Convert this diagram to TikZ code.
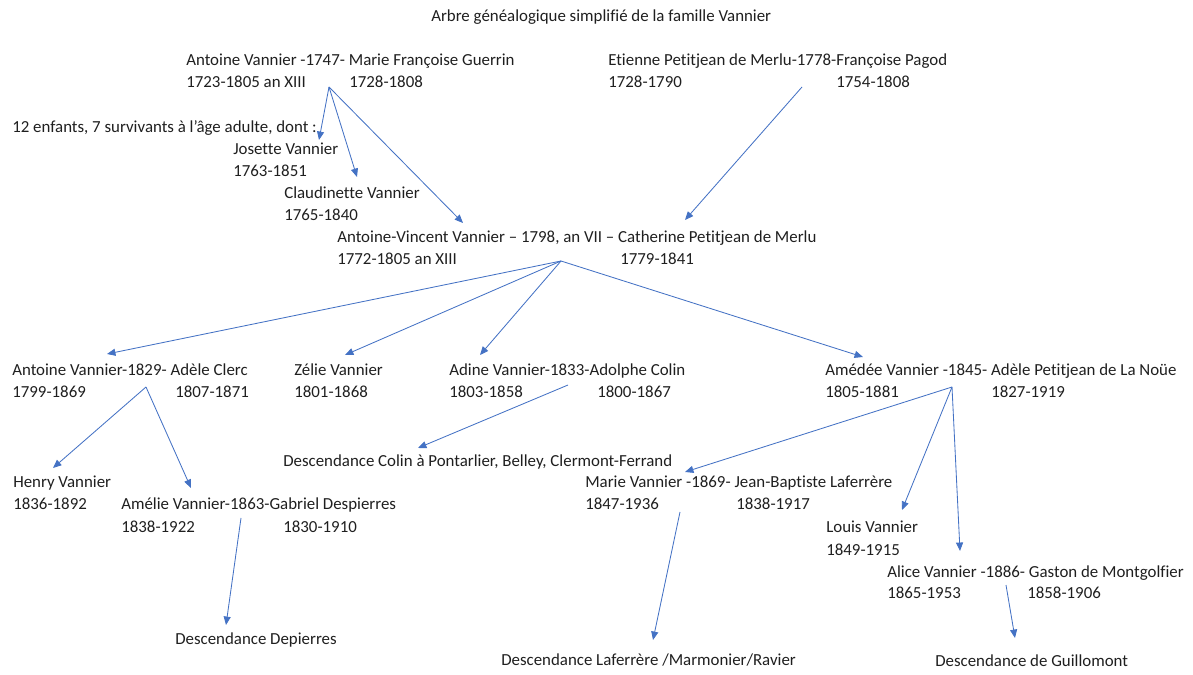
\documentclass[tikz,border=0pt]{standalone}
\usepackage{fontspec}
\setmainfont{Carlito}[Ligatures=NoCommon]
\usetikzlibrary{arrows.meta, calc, positioning}

\definecolor{linkblue}{HTML}{4472C4}
\definecolor{inkgray}{HTML}{1F1F1F}

\tikzset{
    person/.style={anchor=base west, inner sep=0pt, text=inkgray, font=\fontsize{12}{14}\selectfont},
    filiation/.style={draw=linkblue, line width=0.6pt, -{Triangle[length=6pt, width=5pt]}}
}

\begin{document}
\begin{tikzpicture}[x=0.025cm, y=-0.025cm]
    \useasboundingbox (0,0) rectangle (1193,675);

    % Title
    \node[person] (title) at (431,22) {Arbre généalogique simplifié de la famille Vannier};

    % First generation
    \node[person] (ant) at (186,66) {Antoine Vannier -1747- Marie Françoise Guerrin};
    \node[person] (antA) at ($(ant.base west)+(0,22)$) {1723-1805 an XIII};
    \node[person] (antB) at ($(ant.base west)+(163,22)$) {1728-1808};

    \node[person] (eti) at (608,66) {Etienne Petitjean de Merlu-1778-Françoise Pagod};
    \node[person] (etiA) at ($(eti.base west)+(0,22)$) {1728-1790};
    \node[person] (etiB) at ($(eti.base west)+(228,22)$) {1754-1808};

    \node[person] (enf) at (12,133) {12 enfants, 7 survivants à l’âge adulte, dont :};

    \node[person] (jos) at (233,155) {Josette Vannier};
    \node[person] (josA) at ($(jos.base west)+(0,22)$) {1763-1851};

    \node[person] (cla) at (284,199) {Claudinette Vannier};
    \node[person] (claA) at ($(cla.base west)+(0,22)$) {1765-1840};

    % Second generation
    \node[person] (avv) at (337,243) {Antoine-Vincent Vannier – 1798, an VII – Catherine Petitjean de Merlu};
    \node[person] (avvA) at ($(avv.base west)+(0,22)$) {1772-1805 an XIII};
    \node[person] (avvB) at ($(avv.base west)+(283,22)$) {1779-1841};

    % Third generation
    \node[person] (an2) at (12,376) {Antoine Vannier-1829- Adèle Clerc};
    \node[person] (an2A) at ($(an2.base west)+(0,22)$) {1799-1869};
    \node[person] (an2B) at ($(an2.base west)+(163,22)$) {1807-1871};

    \node[person] (zel) at (294,376) {Zélie Vannier};
    \node[person] (zelA) at ($(zel.base west)+(0,22)$) {1801-1868};

    \node[person] (adi) at (449,376) {Adine Vannier-1833-Adolphe Colin};
    \node[person] (adiA) at ($(adi.base west)+(0,22)$) {1803-1858};
    \node[person] (adiB) at ($(adi.base west)+(148,22)$) {1800-1867};

    \node[person] (ame) at (825,376) {Amédée Vannier -1845- Adèle Petitjean de La Noüe};
    \node[person] (ameA) at ($(ame.base west)+(0,22)$) {1805-1881};
    \node[person] (ameB) at ($(ame.base west)+(166,22)$) {1827-1919};

    \node[person] (col) at (283,466) {Descendance Colin à Pontarlier, Belley, Clermont-Ferrand};

    % Fourth generation
    \node[person] (hen) at (13,488) {Henry Vannier};
    \node[person] (henA) at ($(hen.base west)+(0,22)$) {1836-1892};

    \node[person] (aml) at (121,510) {Amélie Vannier-1863-Gabriel Despierres};
    \node[person] (amlA) at ($(aml.base west)+(0,22)$) {1838-1922};
    \node[person] (amlB) at ($(aml.base west)+(162,22)$) {1830-1910};

    \node[person] (mar) at (585,488) {Marie Vannier -1869- Jean-Baptiste Laferrère};
    \node[person] (marA) at ($(mar.base west)+(0,22)$) {1847-1936};
    \node[person] (marB) at ($(mar.base west)+(151,22)$) {1838-1917};

    \node[person] (lou) at (826,533) {Louis Vannier};
    \node[person] (louA) at ($(lou.base west)+(0,22)$) {1849-1915};

    \node[person] (ali) at (887,577) {Alice Vannier -1886- Gaston de Montgolfier};
    \node[person] (aliA) at ($(ali.base west)+(0,22)$) {1865-1953};
    \node[person] (aliB) at ($(ali.base west)+(140,22)$) {1858-1906};

    % Descendants
    \node[person] (dep) at (175,644) {Descendance Depierres};
    \node[person] (laf) at (501,665) {Descendance Laferrère /Marmonier/Ravier};
    \node[person] (gui) at (935,666) {Descendance de Guillomont};

    % Arrow ends
    \coordinate (antS) at (329,87);
    \coordinate (etiS) at (802,87);
    \coordinate (avvS) at (561,261);
    \coordinate (an2S) at (146,387);
    \coordinate (adiS) at (568,385);
    \coordinate (ameS) at (952,387);
    \coordinate (amlS) at (241,518);
    \coordinate (marS) at (680,512);
    \coordinate (aliS) at (1006,585);

    \coordinate (enfT) at (319,140);
    \coordinate (claT) at (357,177);
    \coordinate (avvT) at (463,223);
    \coordinate (catT) at (685,220);
    \coordinate (an2T) at (107,354);
    \coordinate (zelT) at (345,355);
    \coordinate (adiT) at (480,355);
    \coordinate (ameT) at (863,357);
    \coordinate (henT) at (53,468);
    \coordinate (amlT) at (191,488);
    \coordinate (colT) at (418,448);
    \coordinate (marT) at (685,472);
    \coordinate (louT) at (902,510);
    \coordinate (aliT) at (960,551);
    \coordinate (depT) at (226,625);
    \coordinate (lafT) at (653,640);
    \coordinate (guiT) at (1015,638);

    % Filiation arrows
    \foreach \t in {enfT, claT, avvT} \draw[filiation] (antS) -- (\t);
    \draw[filiation] (etiS) -- (catT);
    \foreach \t in {an2T, zelT, adiT, ameT} \draw[filiation] (avvS) -- (\t);
    \foreach \t in {henT, amlT} \draw[filiation] (an2S) -- (\t);
    \draw[filiation] (adiS) -- (colT);
    \foreach \t in {marT, louT, aliT} \draw[filiation] (ameS) -- (\t);
    \draw[filiation] (amlS) -- (depT);
    \draw[filiation] (marS) -- (lafT);
    \draw[filiation] (aliS) -- (guiT);

\end{tikzpicture}
\end{document}
